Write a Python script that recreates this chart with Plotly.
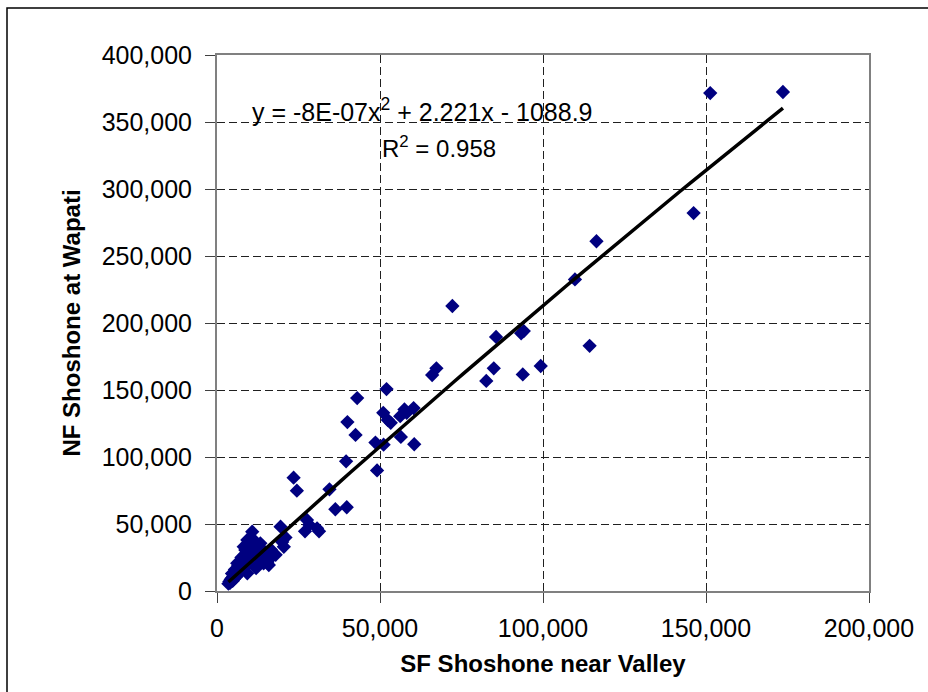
import numpy as np
import plotly.graph_objects as go

# SF Shoshone near Valley (x) vs NF Shoshone at Wapati (y)
sf_valley = [
    173600, 151300, 146200, 116400, 109800, 114300, 99300, 93800, 93300, 94100,
    85600, 72200, 84900, 82600, 66000, 67300, 43000, 52000, 40000, 42500,
    51000, 52400, 53300, 56200, 57500, 60300, 58200, 56400, 60500, 48600,
    51100, 39600, 49100, 34500, 36300, 39800, 23500, 24500, 27600, 28300,
    30700, 31300, 27000, 19500, 21000, 20500, 20000, 10800, 11300, 13300,
    14300, 15900, 16400, 15400, 8200, 9300, 6200, 7500, 8700, 9300,
    12000, 14300, 17000, 18000, 16500,
    3500, 3800, 4000, 4200, 4500, 4800, 5000, 5200, 5500, 5800,
    6000, 6200, 6500, 6800, 7000, 7200, 7500, 7800, 8000, 8300,
    8600, 9000, 9300, 9600, 10000, 10300, 10700, 11000, 11500, 12000,
    12500, 13000, 13500, 14000, 4600, 5500, 6500, 7500, 8500, 9500,
    10000, 11500, 12500,
]
nf_wapati = [
    372400, 371600, 282000, 261000, 232500, 183000, 167900, 161600, 192300, 194000,
    189600, 212700, 166200, 156800, 161200, 166200, 144000, 150700, 126100, 116500,
    133000, 127600, 125500, 130500, 135500, 136500, 133000, 115000, 109500, 110800,
    109200, 96800, 90000, 75900, 61000, 62500, 84600, 74900, 53000, 49500,
    46800, 44500, 44500, 48000, 40000, 33000, 36500, 44300, 38100, 35600,
    25600, 19400, 24400, 21000, 33100, 38100, 20700, 25000, 30600, 13200,
    17000, 20700, 29000, 27000, 31000,
    5500, 7000, 6000, 8500, 9500, 7500, 11000, 9000, 12500, 10500,
    14000, 12000, 15500, 13000, 17500, 14500, 19000, 16000, 21000, 17500,
    23000, 19500, 25000, 21000, 27500, 22500, 29000, 24000, 26500, 28500,
    30500, 27000, 32000, 29500, 13000, 16000, 19000, 22500, 27000, 30500,
    34000, 33000, 24500,
]

# Excel polynomial trendline as printed on the chart
trend_coef = [-8e-07, 2.221, -1088.9]
r_squared = 0.958

x_ticks = [0, 50000, 100000, 150000, 200000]
y_ticks = [0, 50000, 100000, 150000, 200000, 250000, 300000, 350000, 400000]

FONT = "Liberation Sans, Arial, sans-serif"

fig = go.Figure()

fig.add_trace(go.Scatter(
    x=sf_valley, y=nf_wapati,
    mode="markers",
    marker=dict(symbol="diamond", size=11, color="#000080", line=dict(width=0)),
    showlegend=False,
))

tx = np.linspace(min(sf_valley), max(sf_valley), 60)
fig.add_trace(go.Scatter(
    x=tx, y=np.polyval(trend_coef, tx),
    mode="lines",
    line=dict(color="black", width=3.5),
    showlegend=False,
))

axis_common = dict(
    showline=True, linecolor="#808080", linewidth=2, mirror=True,
    ticks="outside", ticklen=10, tickcolor="#404040", tickwidth=1,
    showgrid=True, gridcolor="#202020", gridwidth=1, griddash="8px,4px",
    zeroline=False, tickformat=",", automargin=False,
    tickfont=dict(family=FONT, size=25, color="black"),
)

fig.update_xaxes(
    range=[0, 200000], tickvals=x_ticks, ticklabelstandoff=4,
    title=dict(text="<b>SF Shoshone near Valley</b>", standoff=14,
               font=dict(family=FONT, size=24, color="black")),
    **axis_common,
)
fig.update_yaxes(
    range=[0, 400000], tickvals=y_ticks, ticklabelstandoff=8,
    title=dict(text="<b>NF Shoshone at Wapati</b>", standoff=14,
               font=dict(family=FONT, size=24, color="black")),
    **axis_common,
)

fig.add_annotation(
    xref="paper", yref="paper", x=(422 - 217) / 652, y=(591 - 110) / 536,
    xanchor="center", yanchor="middle",
    text="y = -8E-07x<sup>2</sup> + 2.221x - 1088.9",
    showarrow=False, font=dict(family=FONT, size=25, color="black"),
)
fig.add_annotation(
    xref="paper", yref="paper", x=(439 - 217) / 652, y=(591 - 147) / 536,
    xanchor="center", yanchor="middle",
    text="R<sup>2</sup> = %.3f" % r_squared,
    showarrow=False, font=dict(family=FONT, size=24, color="black"),
)

# outer chart frame (right and bottom edges fall outside the picture)
fig.add_shape(
    type="rect", xref="paper", yref="paper",
    x0=(7 - 217) / 652, x1=1.2, y0=-0.3, y1=(591 - 8) / 536,
    line=dict(color="black", width=1.5), layer="below",
)

fig.update_layout(
    width=928, height=692,
    margin=dict(l=217, r=59, t=55, b=101),
    paper_bgcolor="white", plot_bgcolor="white",
    font=dict(family=FONT, color="black"),
)

fig.write_html(
    "out.html",
    config={"displayModeBar": False},
    post_script="document.body.style.margin='0px';",
)
